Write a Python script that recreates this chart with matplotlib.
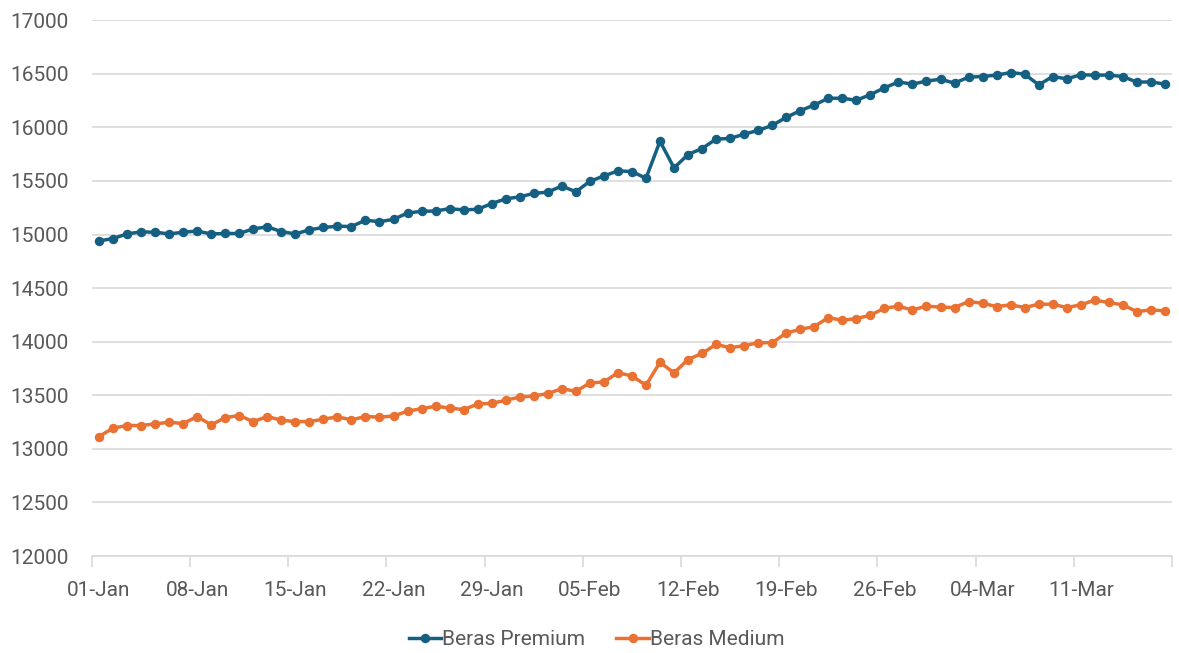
import matplotlib.pyplot as plt
import matplotlib.dates as mdates
import numpy as np
import pandas as pd

plt.rcParams['font.family'] = ['Roboto', 'DejaVu Sans']

dates = pd.date_range('2024-01-01', '2024-03-17', freq='D')

premium = [14940, 14963, 15006, 15025, 15022, 15006, 15022, 15032, 15006, 15010,
           15010, 15053, 15072, 15028, 15006, 15044, 15066, 15078, 15075, 15134,
           15120, 15142, 15201, 15217, 15220, 15242, 15230, 15236, 15289, 15333,
           15352, 15384, 15396, 15453, 15399, 15497, 15547, 15594, 15588, 15525,
           15871, 15622, 15747, 15803, 15891, 15897, 15937, 15972, 16019, 16094,
           16156, 16209, 16272, 16272, 16253, 16306, 16369, 16424, 16404, 16432,
           16450, 16413, 16469, 16475, 16488, 16512, 16497, 16397, 16475, 16453,
           16491, 16488, 16488, 16475, 16422, 16425, 16404]

medium = [13115, 13193, 13218, 13218, 13233, 13249, 13236, 13302, 13224, 13292,
          13311, 13255, 13302, 13267, 13255, 13255, 13277, 13299, 13271, 13302,
          13296, 13307, 13351, 13376, 13397, 13382, 13366, 13419, 13425, 13453,
          13484, 13494, 13516, 13562, 13537, 13615, 13624, 13711, 13680, 13594,
          13808, 13709, 13834, 13891, 13975, 13944, 13963, 13991, 13991, 14081,
          14116, 14141, 14225, 14200, 14216, 14247, 14313, 14331, 14296, 14333,
          14322, 14319, 14375, 14359, 14328, 14344, 14319, 14350, 14350, 14319,
          14344, 14388, 14366, 14344, 14281, 14297, 14288]

fig = plt.figure(figsize=(11.79, 6.53), dpi=100)
ax = fig.add_axes([0.078, 0.1485, 0.916, 0.8205])

ax.plot(dates, premium, color='#156082', lw=2.5, marker='o', ms=5.8, label='Beras Premium')
ax.plot(dates, medium, color='#E97132', lw=2.5, marker='o', ms=5.8, label='Beras Medium')

half = pd.Timedelta(hours=12)
ax.set_xlim(dates[0] - half, dates[-1] + half)
ax.set_ylim(12000, 17000)
ax.set_yticks(np.arange(12000, 17001, 500))

# labels on every 7th day, tick marks on the day boundaries
ax.set_xticks(dates[::7])
ax.xaxis.set_major_formatter(mdates.DateFormatter('%d-%b'))
ax.set_xticks(list(dates[::7] - half) + [dates[-1] + half], minor=True)
ax.tick_params(axis='x', which='major', length=0, pad=18, labelsize=15, labelcolor='#595959')
ax.tick_params(axis='x', which='minor', length=8, color='#D9D9D9', width=1.2)
ax.tick_params(axis='y', length=0, pad=17, labelsize=15, labelcolor='#595959')

ax.grid(axis='y', color='#D9D9D9', lw=1.2)
ax.set_axisbelow(True)
for s in ['top', 'right', 'left']:
    ax.spines[s].set_visible(False)
ax.spines['bottom'].set_color('#D9D9D9')
ax.spines['bottom'].set_linewidth(1.2)

leg = fig.legend(loc='center', bbox_to_anchor=(0.506, 0.02), ncol=2, frameon=False,
                 fontsize=15, handlelength=1.55, handletextpad=0.05, columnspacing=1.5,
                 labelcolor='#595959', borderpad=0)

fig.savefig('out.png', dpi=100, facecolor='white')
